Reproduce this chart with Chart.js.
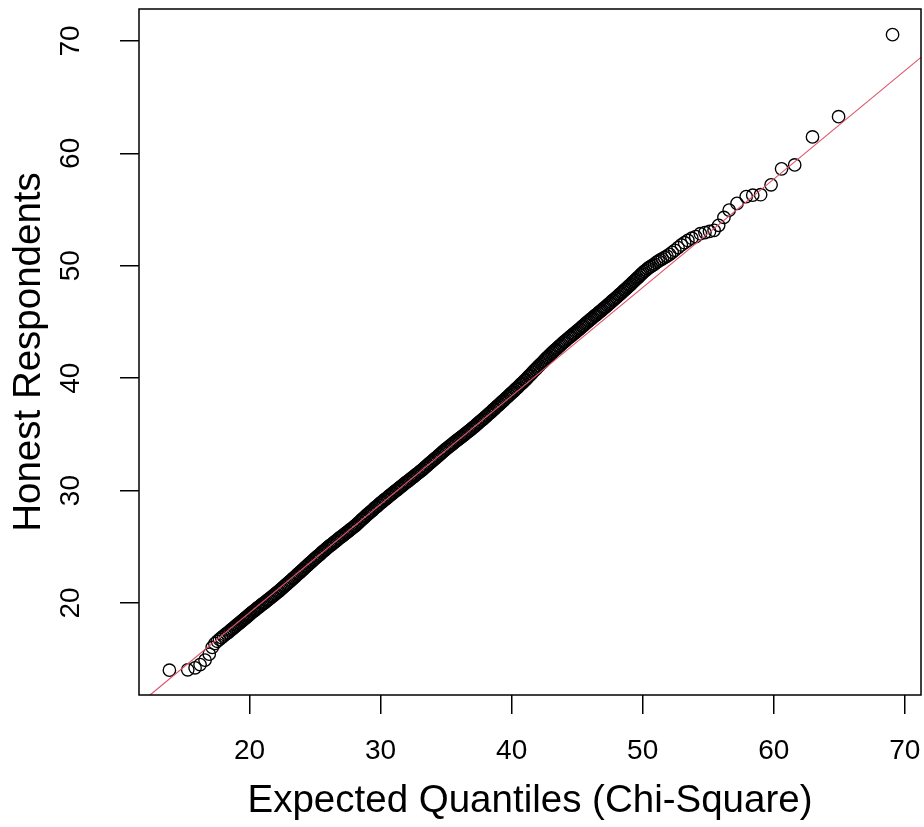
<!DOCTYPE html>
<html><head><meta charset="utf-8">
<script src="https://cdn.jsdelivr.net/npm/chart.js@4.4.1/dist/chart.umd.min.js"></script>
<style>html,body{margin:0;padding:0;background:#fff;overflow:hidden}canvas{display:block}</style>
</head><body>
<canvas id="c" width="924" height="827"></canvas>
<script>
// ---- data ----
const xTitle = "Expected Quantiles (Chi-Square)";
const yTitle = "Honest Respondents";
const xTickValues = [20, 30, 40, 50, 60, 70];
const yTickValues = [20, 30, 40, 50, 60, 70];
const xRange = [11.56, 71.24];
const yRange = [11.82, 72.84];

const lowerTailX = [13.88, 15.28, 15.84, 16.22, 16.6, 16.92, 17.15, 17.35, 17.53, 17.7, 17.86, 18.0, 18.13, 18.26, 18.38, 18.5, 18.61, 18.72, 18.82, 18.92, 19.02, 19.12, 19.22, 19.31, 19.4, 19.49, 19.58, 19.67, 19.75, 19.83, 19.92];
const lowerTailY = [14.03, 14.06, 14.24, 14.53, 14.92, 15.45, 16.05, 16.4, 16.6, 16.76, 16.92, 17.06, 17.18, 17.3, 17.4, 17.52, 17.63, 17.73, 17.83, 17.93, 18.03, 18.12, 18.22, 18.3, 18.4, 18.48, 18.57, 18.65, 18.73, 18.81, 18.9];

const bodyX = [
20.0,20.1,20.2,20.3,20.4,20.5,20.6,20.7,20.8,20.9,
21.0,21.1,21.2,21.3,21.4,21.5,21.6,21.7,21.8,21.9,
22.0,22.1,22.2,22.3,22.4,22.5,22.6,22.7,22.8,22.9,
23.0,23.1,23.2,23.3,23.4,23.5,23.6,23.7,23.8,23.9,
24.0,24.1,24.2,24.3,24.4,24.5,24.6,24.7,24.8,24.9,
25.0,25.1,25.2,25.3,25.4,25.5,25.6,25.7,25.8,25.9,
26.0,26.1,26.2,26.3,26.4,26.5,26.6,26.7,26.8,26.9,
27.0,27.1,27.2,27.3,27.4,27.5,27.6,27.7,27.8,27.9,
28.0,28.1,28.2,28.3,28.4,28.5,28.6,28.7,28.8,28.9,
29.0,29.1,29.2,29.3,29.4,29.5,29.6,29.7,29.8,29.9,
30.0,30.1,30.2,30.3,30.4,30.5,30.6,30.7,30.8,30.9,
31.0,31.1,31.2,31.3,31.4,31.5,31.6,31.7,31.8,31.9,
32.0,32.1,32.2,32.3,32.4,32.5,32.6,32.7,32.8,32.9,
33.0,33.1,33.2,33.3,33.4,33.5,33.6,33.7,33.8,33.9,
34.0,34.1,34.2,34.3,34.4,34.5,34.6,34.7,34.8,34.9,
35.0,35.1,35.2,35.3,35.4,35.5,35.6,35.7,35.8,35.9,
36.0,36.1,36.2,36.3,36.4,36.5,36.6,36.7,36.8,36.9,
37.0,37.1,37.2,37.3,37.4,37.5,37.6,37.7,37.8,37.9,
38.0,38.1,38.2,38.3,38.4,38.5,38.6,38.7,38.8,38.9,
39.0,39.1,39.2,39.3,39.4,39.5,39.6,39.7,39.8,39.9,
40.0,40.1,40.2,40.3,40.4,40.5,40.6,40.7,40.8,40.9,
41.0,41.1,41.2,41.3,41.4,41.5,41.6,41.7,41.8,41.9,
42.0,42.1,42.2,42.3,42.4,42.5,42.6,42.7,42.8,42.9,
43.0,43.1,43.2,43.3,43.4,43.5,43.6,43.7,43.8,43.9,
44.0,44.1,44.2,44.3,44.4,44.5,44.6,44.7,44.8,44.9,
45.0,45.1,45.2,45.3,45.4,45.5,45.6,45.7,45.8,45.9,
46.0,46.1,46.2,46.3,46.4,46.5,46.6,46.7,46.8,46.9,
47.0,47.1,47.2,47.3,47.4,47.5,47.6,47.7,47.8,47.9,
48.0,48.1,48.2,48.3,48.4,48.5,48.6,48.7,48.8,48.9,
49.0,49.1,49.2,49.3,49.4,49.5,49.6,49.7,49.8,49.9];
const bodyY = [
19.0,19.08,19.19,19.27,19.35,19.46,19.56,19.63,19.73,19.83,
19.92,20.0,20.08,20.19,20.29,20.36,20.46,20.56,20.64,20.74,
20.83,20.94,21.02,21.13,21.24,21.33,21.44,21.55,21.63,21.74,
21.85,21.94,22.05,22.17,22.26,22.36,22.48,22.59,22.68,22.79,
22.9,23.0,23.12,23.22,23.32,23.44,23.55,23.64,23.76,23.87,
23.97,24.06,24.18,24.27,24.36,24.48,24.59,24.67,24.78,24.89,
24.98,25.08,25.16,25.25,25.35,25.45,25.53,25.62,25.73,25.81,
25.9,25.98,26.08,26.18,26.26,26.35,26.45,26.55,26.63,26.72,
26.82,26.91,27.02,27.14,27.23,27.35,27.46,27.55,27.67,27.78,
27.88,27.97,28.09,28.18,28.27,28.39,28.5,28.58,28.69,28.8,
28.9,28.98,29.08,29.19,29.27,29.36,29.47,29.57,29.65,29.75,
29.85,29.95,30.03,30.12,30.22,30.32,30.4,30.49,30.6,30.68,
30.77,30.85,30.95,31.05,31.13,31.22,31.32,31.42,31.5,31.59,
31.69,31.78,31.87,31.98,32.09,32.18,32.29,32.4,32.48,32.59,
32.69,32.8,32.89,32.99,33.1,33.21,33.3,33.4,33.51,33.6,
33.71,33.79,33.89,33.99,34.07,34.16,34.26,34.36,34.44,34.53,
34.63,34.71,34.8,34.89,34.99,35.09,35.17,35.26,35.35,35.45,
35.55,35.64,35.73,35.84,35.95,36.04,36.15,36.26,36.34,36.45,
36.55,36.65,36.77,36.87,36.96,37.08,37.2,37.28,37.4,37.51,
37.61,37.71,37.83,37.93,38.03,38.15,38.26,38.35,38.47,38.58,
38.69,38.78,38.9,39.02,39.12,39.23,39.35,39.47,39.56,39.68,
39.8,39.9,40.03,40.16,40.27,40.39,40.52,40.65,40.76,40.88,
41.0,41.11,41.24,41.35,41.46,41.59,41.71,41.82,41.93,42.06,
42.17,42.27,42.39,42.49,42.58,42.7,42.82,42.9,43.02,43.13,
43.23,43.32,43.42,43.53,43.62,43.71,43.81,43.92,44.0,44.1,
44.21,44.3,44.39,44.5,44.61,44.7,44.81,44.92,45.0,45.11,
45.21,45.3,45.4,45.51,45.59,45.68,45.79,45.89,45.97,46.07,
46.18,46.27,46.36,46.48,46.59,46.67,46.78,46.89,46.98,47.09,
47.19,47.29,47.41,47.51,47.6,47.72,47.84,47.92,48.04,48.15,
48.25,48.35,48.48,48.59,48.69,48.81,48.93,49.02,49.15,49.26];

const upperTailX = [50.0, 50.12, 50.25, 50.38, 50.5, 50.63, 50.77, 50.9, 51.05, 51.2, 51.35, 51.5, 51.68, 51.85, 52.05, 52.25, 52.45, 52.7, 52.95, 53.2, 53.45, 53.75, 54.05, 54.4, 54.75, 55.1, 55.45, 55.8, 56.2, 56.6, 57.2, 57.9, 58.4, 59.0, 59.8, 60.6, 61.6, 62.96, 64.95, 69.07];
const upperTailY = [49.37, 49.5, 49.62, 49.74, 49.85, 49.95, 50.05, 50.15, 50.3, 50.42, 50.52, 50.62, 50.74, 50.86, 51.02, 51.2, 51.38, 51.62, 51.85, 52.05, 52.25, 52.45, 52.6, 52.85, 52.95, 53.05, 53.15, 53.6, 54.3, 54.95, 55.55, 56.15, 56.28, 56.32, 57.2, 58.62, 58.97, 61.46, 63.26, 70.56];

// reference line end points (x at the plot edges)
const refLineX = [11.56, 71.24];
const refLineY = [11.01, 68.54];

// ---- build datasets ----
const qx = lowerTailX.concat(bodyX, upperTailX);
const qy = lowerTailY.concat(bodyY, upperTailY);
const points = qx.map((x, i) => ({x: x, y: qy[i]}));
const linePts = refLineX.map((x, i) => ({x: x, y: refLineY[i]}));

const FONT = "'Liberation Sans', Arial, sans-serif";

const boxPlugin = {
  id: 'box',
  afterDatasetsDraw(chart) {
    const a = chart.chartArea, ctx = chart.ctx;
    ctx.save();
    ctx.strokeStyle = '#000';
    ctx.lineWidth = 1.5;
    ctx.strokeRect(a.left, a.top, a.right - a.left, a.bottom - a.top);
    ctx.restore();
  }
};

new Chart(document.getElementById('c'), {
  type: 'scatter',
  data: {
    datasets: [
      { data: linePts, showLine: true, borderColor: '#DF536B', borderWidth: 1.2, pointRadius: 0, fill: false },
      { data: points, pointStyle: 'circle', pointRadius: 6.2, borderColor: '#000', backgroundColor: 'rgba(0,0,0,0)', borderWidth: 1.35 }
    ]
  },
  options: {
    responsive: false,
    animation: false,
    devicePixelRatio: 1,
    layout: { autoPadding: false, padding: { top: 9, right: 3, left: 0, bottom: 0 } },
    plugins: { legend: { display: false }, tooltip: { enabled: false } },
    scales: {
      x: {
        type: 'linear', position: 'bottom', min: xRange[0], max: xRange[1],
        afterBuildTicks: s => { s.ticks = xTickValues.map(v => ({value: v})); },
        afterFit: s => { s.height = 132; s.paddingLeft = 0; s.paddingRight = 0; },
        grid: { drawOnChartArea: false, drawTicks: true, tickLength: 19, color: '#000', lineWidth: 1.5 },
        border: { display: false },
        ticks: { color: '#000', font: { family: FONT, size: 28 }, padding: 20, maxRotation: 0, minRotation: 0 },
        title: { display: true, text: xTitle, color: '#000', font: { family: FONT, size: 38.5 }, padding: { top: 0, bottom: 3 } }
      },
      y: {
        type: 'linear', position: 'left', min: yRange[0], max: yRange[1],
        afterBuildTicks: s => { s.ticks = yTickValues.map(v => ({value: v})); },
        afterFit: s => { s.width = 139; s.paddingTop = 0; s.paddingBottom = 0; },
        grid: { drawOnChartArea: false, drawTicks: true, tickLength: 19, color: '#000', lineWidth: 1.5 },
        border: { display: false },
        ticks: { color: '#000', font: { family: FONT, size: 28 }, padding: 33, minRotation: 90, maxRotation: 90, crossAlign: 'center' },
        title: { display: true, text: yTitle, color: '#000', font: { family: FONT, size: 38.5 }, padding: { top: 6, bottom: 0 } }
      }
    }
  },
  plugins: [boxPlugin]
});
</script></body></html>
